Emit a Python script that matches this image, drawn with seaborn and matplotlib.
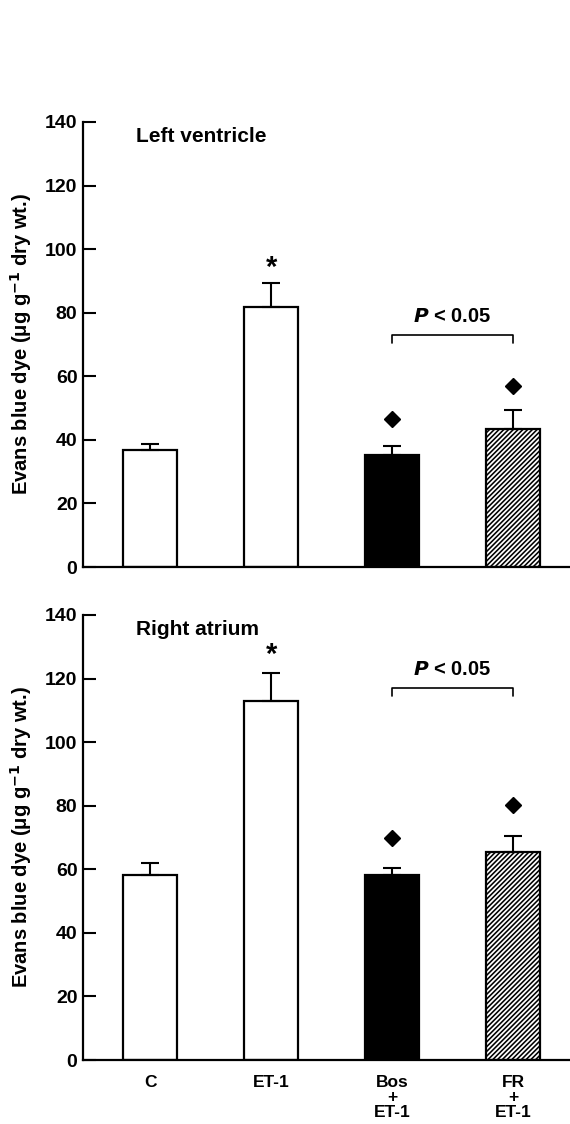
import numpy as np
import pandas as pd
import matplotlib
matplotlib.use("Agg")
import matplotlib.pyplot as plt
import seaborn as sns

# datos
grupos = ["C", "ET-1", "Bos\n+\nET-1", "FR\n+\nET-1"]
lv_media = [36.8, 81.8, 35.2, 43.4]
lv_sem = [1.9, 7.5, 2.8, 6.0]
ra_media = [58.2, 112.9, 58.2, 65.4]
ra_sem = [3.8, 8.8, 2.2, 5.0]
lv_rombo = [46.5, 56.9]      # Bos, FR
ra_rombo = [69.8, 80.2]
lv_estrella = 95.6
ra_estrella = 129.0
lv_corchete = [73.0, 70.4]
ra_corchete = [117.0, 114.4]
titulos = ["Left ventricle", "Right atrium"]

sns.set_style("ticks")
plt.rcParams["font.family"] = ["Liberation Sans", "DejaVu Sans"]
plt.rcParams["font.weight"] = "bold"
plt.rcParams["mathtext.default"] = "bf"
plt.rcParams["hatch.linewidth"] = 1.15
for k in ["text.color", "axes.labelcolor", "xtick.color", "ytick.color",
          "axes.edgecolor"]:
    plt.rcParams[k] = "black"

colores = ["white", "white", "black", "white"]

fig = plt.figure(figsize=(5.7, 11.24), dpi=100)
ax1 = fig.add_axes([0.1456, 0.4955, 0.8544, 0.396])
ax2 = fig.add_axes([0.1456, 0.0569, 0.8544, 0.396])

paneles = [
    (ax1, lv_media, lv_sem, lv_rombo, lv_estrella, lv_corchete, titulos[0]),
    (ax2, ra_media, ra_sem, ra_rombo, ra_estrella, ra_corchete, titulos[1]),
]

for ax, media, sem, rombo, estrella, corchete, titulo in paneles:
    df = pd.DataFrame({"grupo": grupos, "valor": media})
    sns.barplot(data=df, x="grupo", y="valor", hue="grupo", palette=colores,
                legend=False, width=0.45, edgecolor="black", linewidth=1.6,
                errorbar=None, ax=ax)
    ax.patches[3].set_hatch("///////")
    x = np.arange(len(grupos))
    ax.errorbar(x, media, yerr=[np.zeros(len(sem)), sem], fmt="none",
                ecolor="black", elinewidth=1.5, capsize=6.5, capthick=1.5,
                zorder=1)
    # rombos sobre Bos y FR
    ax.plot(x[2:], rombo, "D", color="black", markersize=8.5, linestyle="none")
    ax.text(1, estrella - 1.5, "*", ha="center", va="center", fontsize=21,
            fontweight="bold")
    # corchete P < 0.05
    ax.plot([2, 2, 3, 3], [corchete[1], corchete[0], corchete[0], corchete[1]],
            color="black", linewidth=1.2)
    ax.text(2.5, corchete[0] + 2.8, "$\\it{P}$ < 0.05", ha="center",
            va="bottom", fontsize=14.5, fontweight="bold")
    ax.text(-0.12, 135.5, titulo, ha="left", va="center", fontsize=15,
            fontweight="bold")

    ax.set_ylim(0, 140)
    ax.set_xlim(-0.554, 3.47)
    ax.set_yticks(range(0, 141, 20))
    ax.tick_params(axis="y", direction="in", length=9, width=1.5, pad=4,
                   labelsize=14)
    ax.tick_params(axis="x", length=0, pad=11, labelsize=12.5)
    ax.set_xlabel("")
    ax.set_ylabel("Evans blue dye (μg g$^{-1}$ dry wt.)", fontsize=14.5,
                  fontweight="bold", labelpad=8)
    sns.despine(ax=ax)
    for s in ["left", "bottom"]:
        ax.spines[s].set_linewidth(1.6)

ax1.set_xticklabels([])
for lab in ax2.get_xticklabels():
    lab.set_fontweight("bold")
    lab.set_linespacing(1.0)

fig.savefig("out.png", dpi=100)
